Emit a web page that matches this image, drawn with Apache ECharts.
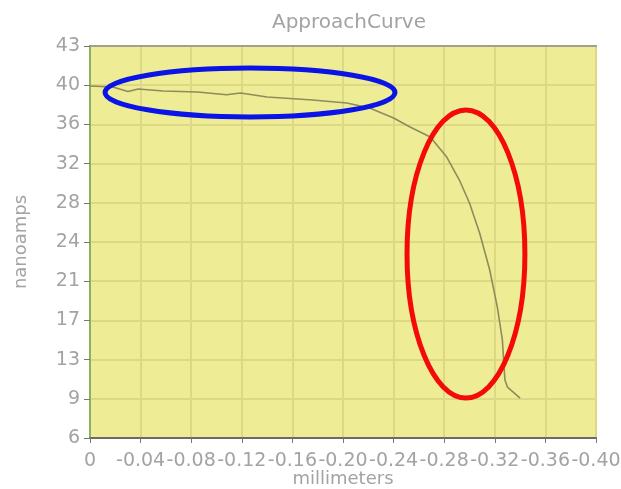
<!DOCTYPE html>
<html><head><meta charset="utf-8">
<script src="https://cdn.jsdelivr.net/npm/echarts@6/dist/echarts.min.js"></script>
<style>html,body{margin:0;padding:0;background:#fff}#c{width:621px;height:489px}</style>
</head><body><div id="c"></div>
<script>
const chartTitle = 'ApproachCurve';
const xAxisName = 'millimeters';
const yAxisName = 'nanoamps';
const xTickLabels = ['0','-0.04','-0.08','-0.12','-0.16','-0.20','-0.24','-0.28','-0.32','-0.36','-0.40'];
const yTickLabels = ['6','9','13','17','21','24','28','32','36','40','43'];
const distanceMm = [0.000,0.018,0.030,0.038,0.058,0.085,0.108,0.119,0.140,0.176,0.203,0.221,0.240,0.253,0.269,0.282,0.292,0.300,0.308,0.316,0.322,0.326,0.328,0.330,0.340];
const currentNa  = [39.22,39.13,38.70,38.94,38.75,38.66,38.40,38.56,38.19,37.90,37.62,37.15,36.20,35.35,34.41,32.52,30.35,28.18,25.35,21.86,18.36,15.25,11.47,10.81,9.77];
// annotation ellipses: centre x, centre y, half width, half height (data units)
const ellipseCx = [0.1265, 0.2972];
const ellipseCy = [38.61, 23.37];
const ellipseRx = [0.1146, 0.0466];
const ellipseRy = [2.31, 13.59];
const ellipseColors = ['#0a14e6', '#f50a0a'];

const txt = '#a3a3a3';
const font = 'DejaVu Sans';
const chart = echarts.init(document.getElementById('c'));
chart.setOption({
  animation: false,
  backgroundColor: '#ffffff',
  title: { text: chartTitle, left: 344, textAlign: 'center', top: 8,
    textStyle: { color: txt, fontFamily: font, fontSize: 20, fontWeight: 'normal' } },
  grid: { left: 90, right: 25, top: 46, bottom: 51, show: true, backgroundColor: '#eeec94',
    borderColor: '#b5968a', borderWidth: 2, outerBoundsMode: 'none', containLabel: false },
  xAxis: [{
    type: 'value', min: 0, max: 0.40, interval: 0.04,
    name: xAxisName, nameLocation: 'middle', nameGap: 32, nameMoveOverlap: false,
    nameTextStyle: { color: txt, fontFamily: font, fontSize: 18 },
    axisLine: { show: true, lineStyle: { color: '#6a6a6a', width: 2 } },
    axisTick: { show: true, length: 5, lineStyle: { color: '#777' } },
    axisLabel: { color: txt, fontFamily: font, fontSize: 19, margin: 14,
      formatter: v => xTickLabels[Math.round(v / 0.04)] },
    splitLine: { show: true, lineStyle: { color: '#dcd886', width: 2 } }
  }, {
    type: 'value', min: 0, max: 0.40, position: 'top', show: true,
    axisLine: { show: true, lineStyle: { color: '#a0a090', width: 2 } },
    axisTick: { show: false }, axisLabel: { show: false }, splitLine: { show: false }
  }],
  yAxis: [{
    type: 'value', min: 6, max: 43, show: false
  }, {
    type: 'category', data: yTickLabels, boundaryGap: false, position: 'left',
    name: yAxisName, nameLocation: 'middle', nameGap: 60, nameMoveOverlap: false,
    nameTextStyle: { color: txt, fontFamily: font, fontSize: 18 },
    axisLine: { show: true, lineStyle: { color: '#8fb060', width: 2 } },
    axisTick: { show: true, length: 6, inside: false, interval: 0, lineStyle: { color: '#777' } },
    axisLabel: { color: txt, fontFamily: font, fontSize: 19, margin: 10, interval: 0 },
    splitLine: { show: true, interval: 0, lineStyle: { color: '#dcd886', width: 2 } }
  }],
  series: [{
    type: 'line', xAxisIndex: 0, yAxisIndex: 0, symbol: 'none', smooth: false,
    data: distanceMm.map((x, i) => [x, currentNa[i]]),
    lineStyle: { color: '#8d8c5c', width: 1.6 }, z: 3
  }, {
    type: 'custom', xAxisIndex: 0, yAxisIndex: 0, clip: false, z: 5,
    data: ellipseCx.map((x, i) => [x, ellipseCy[i], ellipseRx[i], ellipseRy[i], i]),
    renderItem: function (params, api) {
      const c = api.coord([api.value(0), api.value(1)]);
      const s = api.size([api.value(2), api.value(3)]);
      return { type: 'ellipse', shape: { cx: c[0], cy: c[1], rx: s[0], ry: s[1] },
        style: { fill: 'none', stroke: ellipseColors[api.value(4)], lineWidth: 5 } };
    }
  }]
});
</script></body></html>
